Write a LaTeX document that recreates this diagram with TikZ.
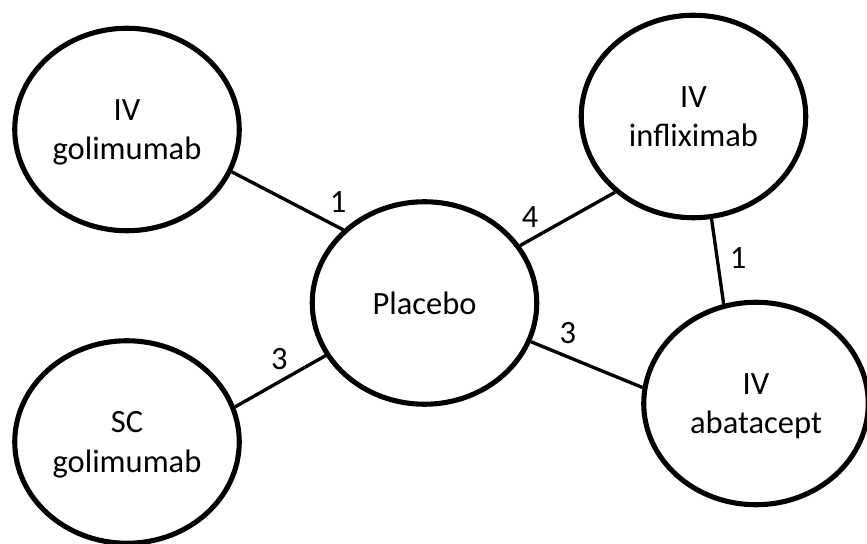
\documentclass[tikz,border=0pt]{standalone}
\usepackage{fontspec}
\setmainfont{Carlito}
\usetikzlibrary{positioning}
\usetikzlibrary{shapes.geometric}

\tikzset{
  drug/.style={ellipse, draw, line width=2.9pt, minimum width=4.49cm,
    minimum height=4.05cm, inner sep=0pt, align=center, text depth=-0.3cm,
    font=\fontsize{18.5}{22.5}\selectfont},
  link/.style={line width=1.9pt},
  num/.style={inner sep=0pt, font=\fontsize{18.5}{22.5}\selectfont}
}

\begin{document}
\begin{tikzpicture}
      \useasboundingbox (0,0) rectangle (17.34,10.88);

      % common comparator
      \node[drug, text depth=0pt] (pl) at (8.49,4.82) {Placebo};

      % active treatments
      \node[drug, on grid, above left=3.47cm and 5.95cm of pl]  (ivgol) {IV\\golimumab};
      \node[drug, on grid, below left=2.78cm and 5.95cm of pl]  (scgol) {SC\\golimumab};
      \node[drug, on grid, above right=3.73cm and 5.38cm of pl] (ivinf) {IV\\infliximab};
      \node[drug, on grid, below right=2.01cm and 6.63cm of pl] (ivaba) {IV\\abatacept};

      % direct comparisons, number of trials
      \draw[link] (ivgol.-22) -- node[num, pos=.955, yshift=0.51cm] (n1) {1} (pl.138);
      \draw[link] (scgol.18) -- node[num, pos=.49, yshift=0.45cm] (n2) {3} (pl.208);
      \draw[link] (pl.31) -- node[num, pos=.105, yshift=0.45cm] (n3) {4} (ivinf.224);
      \draw[link] (pl.-20) -- node[num, pos=.33, yshift=0.47cm] (n4) {3} (ivaba.172);
      \draw[link] (ivinf.-80) -- node[num, pos=.46, xshift=0.42cm] (n5) {1} (ivaba.108);
\end{tikzpicture}
\end{document}
